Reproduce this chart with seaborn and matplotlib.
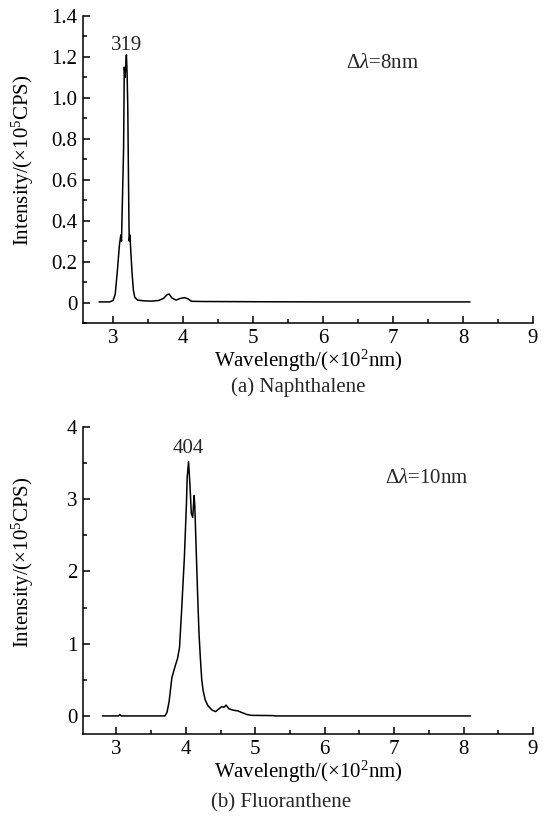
import numpy as np
import pandas as pd
import matplotlib
matplotlib.use("Agg")
import matplotlib.pyplot as plt
from matplotlib.ticker import MultipleLocator
import seaborn as sns

# ---- data ----
naph_wl = [2.80, 2.95, 3.00, 3.03, 3.06, 3.09, 3.11, 3.12, 3.13, 3.15, 3.16, 3.17,
           3.18, 3.19, 3.20, 3.21, 3.22, 3.23, 3.24, 3.25, 3.27, 3.29, 3.31, 3.35,
           3.45, 3.55, 3.65, 3.72, 3.77, 3.80, 3.84, 3.90, 3.96, 4.02, 4.07, 4.12,
           4.30, 5.00, 6.00, 7.00, 8.10]
naph_int = [0.003, 0.003, 0.010, 0.040, 0.150, 0.280, 0.330, 0.300, 0.450, 0.750, 1.150, 1.100,
            1.150, 1.210, 1.120, 0.950, 0.600, 0.300, 0.330, 0.270, 0.150, 0.060, 0.025, 0.012,
            0.008, 0.007, 0.010, 0.020, 0.038, 0.042, 0.022, 0.012, 0.020, 0.024, 0.018, 0.006,
            0.005, 0.004, 0.003, 0.003, 0.003]

fluo_wl = [2.80, 3.03, 3.05, 3.07, 3.70, 3.73, 3.76, 3.80, 3.85, 3.88, 3.91, 3.94, 3.98,
           4.01, 4.02, 4.04, 4.06, 4.08, 4.10, 4.12, 4.13, 4.15, 4.17, 4.19, 4.21,
           4.23, 4.25, 4.28, 4.32, 4.38, 4.43, 4.48, 4.52, 4.55, 4.58, 4.62, 4.68,
           4.75, 4.80, 4.88, 4.95, 5.25, 5.30, 8.10]
fluo_int = [0.00, 0.00, 0.02, 0.00, 0.00, 0.05, 0.20, 0.53, 0.70, 0.79, 0.95, 1.46, 2.20,
            2.95, 3.30, 3.52, 3.20, 2.80, 2.75, 3.05, 2.90, 2.30, 1.70, 1.15, 0.80,
            0.50, 0.35, 0.22, 0.14, 0.08, 0.06, 0.10, 0.13, 0.12, 0.15, 0.10, 0.08,
            0.07, 0.05, 0.02, 0.008, 0.005, 0.00, 0.00]

x_ticks = [3, 4, 5, 6, 7, 8, 9]
y_ticks_a = [0, 0.2, 0.4, 0.6, 0.8, 1.0, 1.2, 1.4]
y_tick_labels_a = ["0", "0.2", "0.4", "0.6", "0.8", "1.0", "1.2", "1.4"]
y_ticks_b = [0, 1, 2, 3, 4]
peak_a = (3.19, 1.21, "319")
peak_b = (4.04, 3.52, "404")
delta_a = r"$\Delta\lambda$=8nm"
delta_b = r"$\Delta\lambda$=10nm"
xlabel = r"Wavelength/($\times$10$^2$nm)"
ylabel = r"Intensity/($\times$10$^5$CPS)"
caption_a = "(a) Naphthalene"
caption_b = "(b) Fluoranthene"

sns.set_style("ticks")
plt.rcParams["font.family"] = ["Liberation Serif", "DejaVu Serif"]
plt.rcParams["mathtext.fontset"] = "custom"
plt.rcParams["mathtext.rm"] = "Liberation Serif"
plt.rcParams["mathtext.it"] = "Liberation Serif:italic"
plt.rcParams["mathtext.bf"] = "Liberation Serif:bold"

FS = 15

fig = plt.figure(figsize=(5.45, 8.24), dpi=100)
axA = fig.add_axes([83/545, 1-323/824, 450/545, 307/824])
axB = fig.add_axes([83/545, 1-734/824, 450/545, 307/824])

dfA = pd.DataFrame({"wl": naph_wl, "I": naph_int})
dfB = pd.DataFrame({"wl": fluo_wl, "I": fluo_int})
sns.lineplot(data=dfA, x="wl", y="I", ax=axA, color="black", linewidth=1.1, sort=False)
sns.lineplot(data=dfB, x="wl", y="I", ax=axB, color="black", linewidth=1.1, sort=False)

def style(ax, xlim, ylim, yticks, ylabels, yminor, ylab_y):
    ax.set_xlim(*xlim)
    ax.set_ylim(*ylim)
    ax.set_xticks(x_ticks)
    ax.set_xticklabels([str(t) for t in x_ticks])
    ax.set_yticks(yticks)
    ax.set_yticklabels(ylabels)
    ax.xaxis.set_minor_locator(MultipleLocator(0.5))
    ax.yaxis.set_minor_locator(MultipleLocator(yminor))
    ax.tick_params(which="major", direction="in", length=5, width=1.1,
                   labelsize=FS, color="black", labelcolor="black", pad=4)
    ax.tick_params(which="minor", direction="in", length=3, width=1.1, color="black")
    for s in ["top", "right"]:
        ax.spines[s].set_visible(False)
    for s in ["left", "bottom"]:
        ax.spines[s].set_color("black")
        ax.spines[s].set_linewidth(1.1)
    ax.set_xlabel(xlabel, fontsize=FS, color="black", labelpad=0)
    ax.set_ylabel(ylabel, fontsize=FS, color="black")
    ax.yaxis.set_label_coords(-0.105, ylab_y)

style(axA, (2.57, 9), (-0.1, 1.4), y_ticks_a, y_tick_labels_a, 0.1, 0.53)
style(axB, (2.52, 9), (-0.25, 4), y_ticks_b, [str(t) for t in y_ticks_b], 0.5, 0.56)

axA.text(peak_a[0], peak_a[1] + 0.0, peak_a[2], ha="center", va="bottom", fontsize=FS)
axB.text(peak_b[0], peak_b[1] + 0.05, peak_b[2], ha="center", va="bottom", fontsize=FS)
axA.text(6.33, 1.17, delta_a, ha="left", va="center", fontsize=FS)
axB.text(6.87, 3.29, delta_b, ha="left", va="center", fontsize=FS)

fig.text(298/545, 1-387/824, caption_a, ha="center", va="center", fontsize=FS)
fig.text(281/545, 1-803/824, caption_b, ha="center", va="center", fontsize=FS)

fig.savefig("out.png", dpi=100, facecolor="white")
